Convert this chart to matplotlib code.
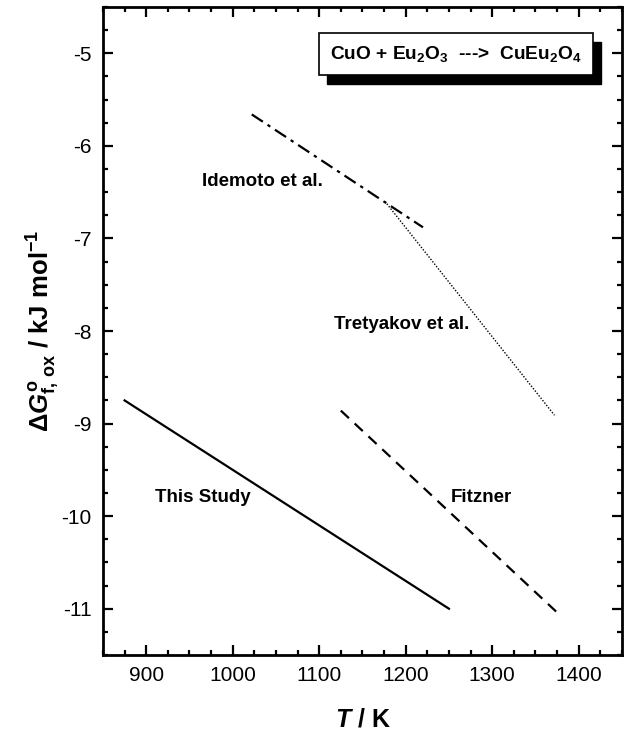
import matplotlib
matplotlib.use("Agg")
import matplotlib.pyplot as plt
from matplotlib.ticker import MultipleLocator
from matplotlib.patches import Rectangle

plt.rcParams['font.family'] = ['Liberation Sans', 'DejaVu Sans']
plt.rcParams['mathtext.fontset'] = 'custom'
plt.rcParams['mathtext.rm'] = 'Liberation Sans:bold'
plt.rcParams['mathtext.it'] = 'Liberation Sans:bold:italic'
plt.rcParams['mathtext.bf'] = 'Liberation Sans:bold'
plt.rcParams['axes.unicode_minus'] = False

# Data (T in K, dG in kJ/mol)
this_study_T = [875, 1250]
this_study_G = [-8.75, -11.0]
fitzner_T = [1125, 1375]
fitzner_G = [-8.86, -11.04]
idemoto_T = [1022, 1220]
idemoto_G = [-5.66, -6.88]
tretyakov_T = [1176, 1372]
tretyakov_G = [-6.60, -8.91]

xticks = [900, 1000, 1100, 1200, 1300, 1400]
yticks = [-11, -10, -9, -8, -7, -6, -5]

fig = plt.figure(figsize=(6.26, 7.32), dpi=100)
ax = fig.add_axes([0.1645, 0.1052, 0.829, 0.8852])

ax.plot(this_study_T, this_study_G, color='black', lw=1.6, ls='-')
ax.plot(fitzner_T, fitzner_G, color='black', lw=1.6, ls=(0, (5, 3.5)))
ax.plot(idemoto_T, idemoto_G, color='black', lw=1.6, ls=(0, (6, 2.5, 1.5, 2.5)))
ax.plot(tretyakov_T, tretyakov_G, color='black', lw=1.0, ls=(0, (1, 1.2)))

lab_kw = dict(fontsize=13.5, fontweight='bold', va='center', ha='left')
ax.text(965, -6.38, 'Idemoto et al.', **lab_kw)
ax.text(1117, -7.93, 'Tretyakov et al.', **lab_kw)
ax.text(910, -9.8, 'This Study', **lab_kw)
ax.text(1252, -9.8, 'Fitzner', **lab_kw)

# Reaction box with shadow (axes fraction)
bx0, by0, bw, bh = 0.4154, 0.895, 0.528, 0.065
ax.add_patch(Rectangle((bx0 + 0.0154, by0 - 0.014), bw, bh, transform=ax.transAxes,
                       facecolor='black', edgecolor='black', zorder=4))
ax.add_patch(Rectangle((bx0, by0), bw, bh, transform=ax.transAxes,
                       facecolor='white', edgecolor='black', lw=1.2, zorder=5))
ax.text(bx0 + bw / 2, by0 + bh / 2,
        r'CuO + Eu$_{2}$O$_{3}$  --->  CuEu$_{2}$O$_{4}$',
        transform=ax.transAxes, ha='center', va='center',
        fontsize=13.8, fontweight='bold', zorder=6)

ax.set_xlim(850, 1450)
ax.set_ylim(-11.5, -4.5)
ax.set_xticks(xticks)
ax.set_yticks(yticks)
ax.xaxis.set_minor_locator(MultipleLocator(25))
ax.yaxis.set_minor_locator(MultipleLocator(0.25))
ax.tick_params(which='both', direction='in', top=True, right=True, width=1.6)
ax.tick_params(which='major', length=7, labelsize=15, pad=8)
ax.tick_params(which='minor', length=3.5)
for s in ax.spines.values():
    s.set_linewidth(2)

ax.set_xlabel(r'$T$ / K', fontsize=18, fontweight='bold', labelpad=16)
ax.set_ylabel(r'$\Delta$$G^{\mathrm{o}}_{\mathrm{f,\,ox}}$ / kJ mol$^{\mathrm{-1}}$',
              fontsize=18.5, fontweight='bold', labelpad=0)

fig.savefig('out.png', dpi=100)
